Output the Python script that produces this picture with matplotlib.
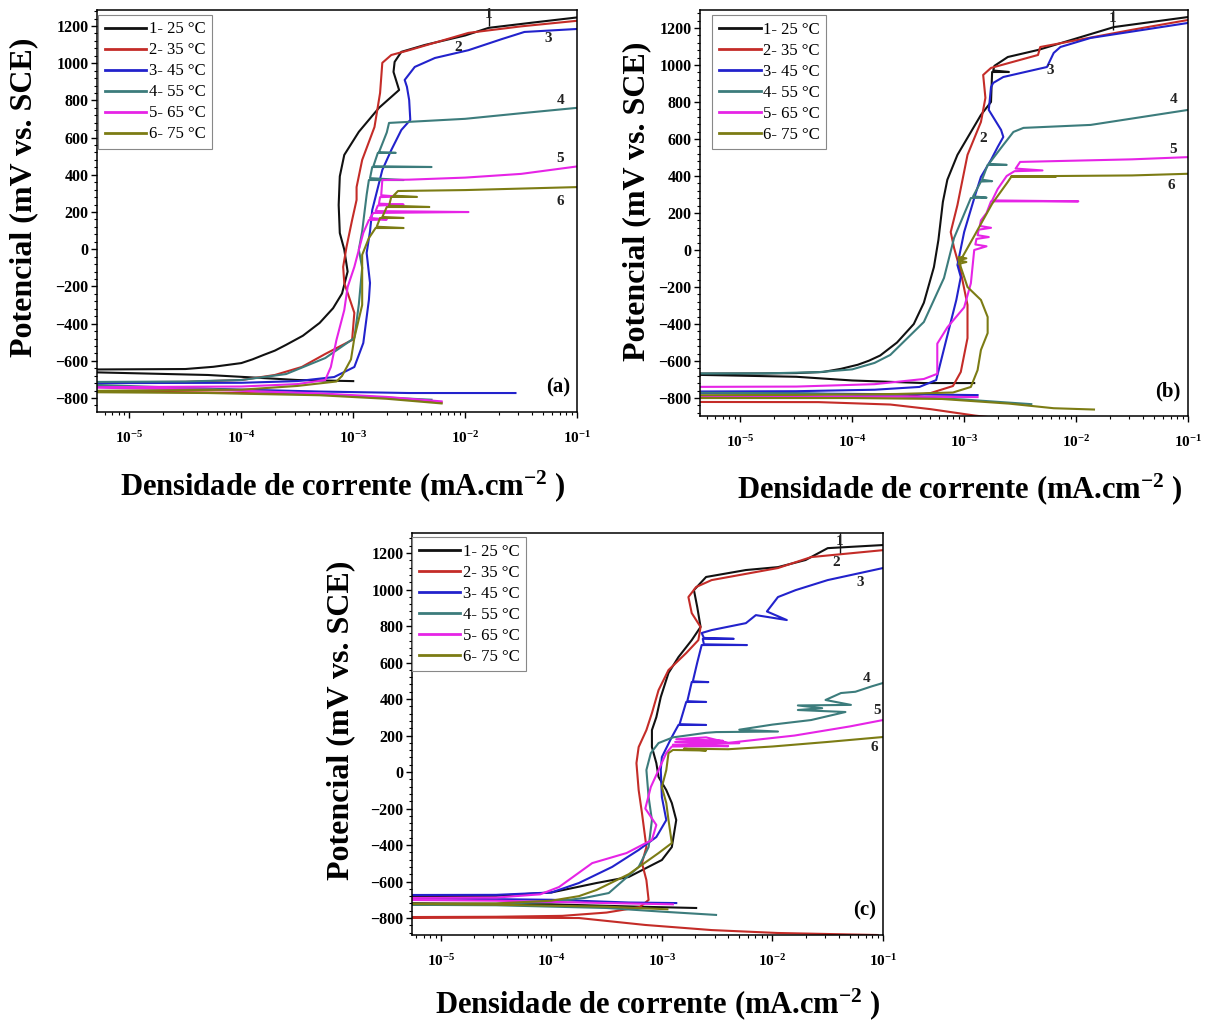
import matplotlib
matplotlib.use('Agg')
import matplotlib.pyplot as plt
from matplotlib.ticker import AutoMinorLocator, LogLocator, NullFormatter, FixedLocator, FixedFormatter
import numpy as np

plt.rcParams['font.family'] = ['Liberation Serif', 'DejaVu Serif']
plt.rcParams['mathtext.fontset'] = 'custom'
plt.rcParams['mathtext.rm'] = 'Liberation Serif:bold'
plt.rcParams['mathtext.bf'] = 'Liberation Serif:bold'
plt.rcParams['mathtext.it'] = 'Liberation Serif:bold:italic'

W, H = 1210, 1021

SERIES_LABELS = ['1- 25 °C', '2- 35 °C', '3- 45 °C', '4- 55 °C', '5- 65 °C', '6- 75 °C']
COLORS = ['#111111', '#c42c28', '#2222cc', '#3c7c7c', '#e624e6', '#7c7c14']
X_TICK_EXP = [-5, -4, -3, -2, -1]
X_TICK_LABELS = [r'$10^{-5}$', r'$10^{-4}$', r'$10^{-3}$', r'$10^{-2}$', r'$10^{-1}$']
Y_TICKS = [-800, -600, -400, -200, 0, 200, 400, 600, 800, 1000, 1200]

# ---------------- Panel (a): log10 current density (mA/cm2) and potential (mV) ----------------
A1_LGI = [-3.0, -3.5, -3.85, -4.3, -5.5, -5.5, -4.5, -4.25, -4.0, -3.9, -3.8, -3.7, -3.6, -3.45, -3.3, -3.18, -3.1, -3.05, -3.08, -3.12, -3.13, -3.12, -3.08, -2.95, -2.77, -2.59, -2.64, -2.63, -2.57, -2.36, -2.0, -1.79, -1.4, -1.0]
A1_E = [-709, -703, -691, -676, -659, -647, -644, -632, -612, -592, -568, -545, -514, -465, -396, -317, -238, -120, -2, 87, 238, 392, 507, 631, 760, 856, 953, 1007, 1061, 1098, 1149, 1190, 1218, 1246]
A2_LGI = [-2.21, -2.7, -3.3, -4.3, -5.5, -5.5, -4.5, -4.0, -3.7, -3.46, -3.25, -3.01, -2.99, -3.08, -3.09, -3.06, -3.01, -2.97, -2.97, -2.92, -2.81, -2.76, -2.74, -2.66, -2.50, -1.97, -1.5, -1.0]
A2_E = [-824, -799, -780, -770, -762, -716, -713, -703, -676, -633, -563, -488, -342, -181, -95, 12, 157, 265, 334, 480, 657, 840, 1002, 1044, 1070, 1163, 1198, 1228]
A3_LGI = [-1.55, -2.5, -3.3, -4.3, -5.5, -5.5, -4.0, -3.5, -3.17, -2.99, -2.91, -2.86, -2.85, -2.88, -2.85, -2.83, -2.74, -2.66, -2.57, -2.49, -2.50, -2.52, -2.54, -2.45, -2.27, -1.97, -1.67, -1.47, -1.0]
A3_E = [-773, -773, -765, -750, -738, -720, -718, -709, -687, -633, -504, -273, -181, -20, 96, 211, 426, 533, 641, 695, 802, 873, 910, 980, 1028, 1070, 1130, 1168, 1184]
A4_LGI = [-2.3, -3.3, -4.3, -5.5, -5.5, -4.5, -4.0, -3.6, -3.25, -2.99, -2.95, -2.92, -2.95, -2.92, -2.90, -2.88, -2.86, -2.55, -2.85, -2.83, -2.30, -2.82, -2.78, -2.62, -2.77, -2.70, -2.68, -2.0, -1.5, -1.0]
A4_E = [-809, -780, -750, -725, -714, -711, -703, -671, -585, -477, -297, -100, -2, 96, 195, 293, 372, 372, 382, 442, 442, 446, 518, 518, 521, 628, 679, 701, 731, 760]
A5_LGI = [-2.21, -2.7, -3.3, -4.3, -5.5, -5.5, -4.0, -3.5, -3.25, -3.2, -3.15, -3.08, -3.05, -2.99, -2.91, -2.86, -2.70, -2.85, -2.82, -1.97, -2.80, -2.78, -2.55, -2.77, -2.76, -2.60, -2.75, -2.74, -2.5, -2.0, -1.5, -1.0]
A5_E = [-818, -794, -775, -755, -742, -742, -738, -725, -703, -633, -488, -327, -203, -95, 88, 157, 160, 168, 195, 200, 205, 235, 240, 245, 280, 283, 290, 372, 374, 385, 405, 445]
A6_LGI = [-2.21, -2.7, -3.3, -4.3, -5.5, -5.5, -4.0, -3.5, -3.15, -3.1, -3.02, -2.99, -2.92, -2.92, -2.86, -2.80, -2.55, -2.79, -2.76, -2.55, -2.74, -2.70, -2.32, -2.68, -2.66, -2.43, -2.64, -2.60, -2.0, -1.5, -1.0]
A6_E = [-829, -804, -785, -773, -768, -762, -755, -735, -711, -681, -592, -477, -300, -30, 60, 114, 114, 121, 168, 168, 173, 227, 227, 234, 281, 281, 288, 313, 318, 326, 334]

# ---------------- Panel (b) ----------------
B1_LGI = [-2.91, -3.36, -4.0, -4.5, -5.6, -5.6, -4.8, -4.5, -4.26, -4.1, -3.95, -3.85, -3.75, -3.6, -3.45, -3.36, -3.27, -3.23, -3.19, -3.15, -3.06, -2.85, -2.76, -2.75, -2.60, -2.74, -2.73, -2.61, -2.34, -1.66, -1.0]
B1_E = [-719, -719, -705, -685, -672, -668, -667, -665, -659, -642, -620, -598, -570, -500, -400, -285, -92, 54, 260, 380, 514, 730, 800, 962, 962, 970, 995, 1043, 1081, 1205, 1259]
B2_LGI = [-2.6, -2.9, -3.3, -3.66, -4.3, -5.6, -5.6, -4.0, -3.5, -3.30, -3.1, -3.03, -2.97, -2.97, -3.03, -3.09, -3.12, -3.06, -2.97, -2.85, -2.81, -2.83, -2.76, -2.34, -2.32, -1.5, -1.0]
B2_E = [-915, -895, -860, -835, -822, -821, -794, -794, -790, -773, -735, -659, -476, -297, -119, 11, 97, 243, 514, 692, 822, 946, 984, 1054, 1097, 1190, 1243]
B3_LGI = [-2.88, -3.5, -4.5, -5.6, -5.6, -4.5, -3.8, -3.4, -3.25, -3.16, -3.07, -3.03, -3.06, -3.0, -2.9, -2.85, -2.76, -2.70, -2.65, -2.67, -2.78, -2.76, -2.74, -2.65, -2.26, -2.20, -2.14, -1.87, -1.0]
B3_E = [-784, -780, -775, -772, -765, -763, -755, -740, -703, -486, -270, -146, -81, 97, 300, 395, 487, 557, 611, 649, 757, 880, 903, 935, 989, 1065, 1097, 1146, 1227]
B4_LGI = [-2.40, -3.0, -3.6, -4.4, -5.6, -5.6, -4.8, -4.3, -4.0, -3.8, -3.66, -3.36, -3.18, -3.09, -2.94, -2.80, -2.92, -2.85, -2.75, -2.84, -2.79, -2.62, -2.78, -2.65, -2.56, -2.47, -1.87, -1.0]
B4_E = [-833, -808, -790, -775, -770, -668, -667, -660, -645, -610, -567, -389, -151, 65, 281, 283, 290, 370, 372, 380, 460, 460, 465, 568, 638, 660, 676, 757]
B5_LGI = [-2.88, -3.5, -4.5, -5.6, -5.6, -4.5, -3.8, -3.36, -3.24, -3.24, -3.15, -3.0, -2.94, -2.91, -2.80, -2.90, -2.89, -2.78, -2.88, -2.87, -2.76, -2.86, -2.85, -2.80, -2.76, -1.98, -2.75, -2.70, -2.62, -2.55, -2.30, -2.54, -2.50, -1.5, -1.0]
B5_E = [-795, -792, -790, -790, -740, -738, -725, -697, -669, -506, -418, -310, -180, 0, 20, 30, 60, 70, 80, 110, 120, 130, 160, 200, 263, 263, 268, 330, 400, 426, 430, 440, 476, 490, 502]
B6_LGI = [-1.84, -2.2, -2.6, -3.2, -4.0, -5.6, -5.6, -4.5, -3.6, -3.1, -2.94, -2.88, -2.85, -2.79, -2.79, -2.85, -2.97, -3.03, -3.05, -2.98, -3.05, -2.98, -3.05, -2.92, -2.75, -2.61, -2.58, -2.18, -2.58, -1.5, -1.0]
B6_E = [-862, -855, -830, -805, -800, -800, -785, -783, -778, -770, -740, -649, -540, -449, -362, -270, -200, -92, -38, -45, -55, -65, -75, 65, 250, 368, 395, 396, 398, 403, 412]

# ---------------- Panel (c) ----------------
C1_LGI = [-2.69, -3.2, -4.0, -5.5, -5.5, -4.5, -4.0, -3.59, -3.30, -3.0, -2.91, -2.87, -2.91, -2.96, -3.03, -3.05, -3.09, -3.09, -3.05, -3.01, -2.94, -2.85, -2.73, -2.65, -2.68, -2.71, -2.60, -2.24, -1.95, -1.70, -1.50, -1.0]
C1_E = [-745, -738, -725, -718, -680, -678, -660, -608, -575, -482, -411, -263, -170, -99, -27, 49, 137, 230, 301, 411, 543, 630, 723, 795, 904, 997, 1069, 1107, 1123, 1162, 1227, 1244]
C2_LGI = [-1.05, -1.95, -2.55, -3.15, -3.75, -4.5, -5.5, -5.5, -4.5, -3.9, -3.5, -3.2, -3.12, -3.14, -3.18, -3.14, -3.16, -3.18, -3.21, -3.23, -3.21, -3.14, -3.09, -3.03, -2.94, -2.78, -2.67, -2.65, -2.73, -2.76, -2.69, -2.55, -1.95, -1.65, -1.0]
C2_E = [-893, -882, -866, -838, -800, -798, -800, -795, -793, -788, -770, -740, -701, -592, -499, -411, -318, -225, -99, 49, 137, 230, 323, 449, 559, 652, 723, 795, 871, 959, 1014, 1052, 1118, 1178, 1216]
C3_LGI = [-2.87, -3.3, -4.0, -5.5, -5.5, -4.5, -4.0, -3.75, -3.45, -3.21, -3.05, -2.96, -3.0, -3.01, -3.0, -2.91, -2.85, -2.60, -2.84, -2.78, -2.60, -2.77, -2.73, -2.58, -2.72, -2.68, -2.64, -2.23, -2.62, -2.63, -2.35, -2.62, -2.64, -2.55, -2.24, -2.15, -1.87, -2.05, -1.95, -1.79, -1.50, -1.0]
C3_E = [-718, -715, -700, -690, -674, -673, -660, -608, -520, -427, -356, -263, -137, 11, 82, 192, 258, 258, 262, 384, 384, 388, 493, 493, 497, 600, 696, 696, 700, 730, 730, 735, 762, 778, 816, 860, 833, 880, 959, 997, 1052, 1118]
C4_LGI = [-2.51, -3.0, -3.5, -4.5, -5.5, -5.5, -4.5, -4.0, -3.7, -3.48, -3.21, -3.12, -3.09, -3.12, -3.14, -3.10, -3.03, -2.9, -2.6, -2.51, -1.95, -2.3, -2.0, -1.65, -1.34, -1.77, -1.55, -1.77, -1.29, -1.52, -1.38, -1.25, -1.1, -1.0]
C4_E = [-783, -765, -745, -730, -727, -725, -722, -712, -690, -663, -520, -411, -263, -137, 11, 104, 159, 190, 215, 219, 222, 232, 260, 285, 329, 340, 350, 365, 368, 395, 433, 440, 470, 488]
C5_LGI = [-2.9, -3.5, -4.5, -5.5, -5.5, -4.5, -4.1, -3.93, -3.63, -3.32, -3.09, -3.05, -3.15, -3.1, -3.03, -2.96, -2.91, -2.40, -2.90, -2.30, -2.88, -2.45, -2.87, -2.6, -2.4, -1.8, -1.3, -1.0]
C5_E = [-725, -718, -705, -700, -690, -688, -670, -630, -499, -444, -372, -290, -200, -82, 11, 104, 140, 142, 150, 158, 165, 172, 180, 190, 160, 200, 250, 285]
C6_LGI = [-2.95, -3.5, -4.5, -5.5, -5.5, -4.5, -4.0, -3.75, -3.59, -3.3, -3.03, -2.91, -2.94, -2.96, -3.0, -2.96, -2.94, -2.9, -2.6, -2.8, -2.4, -2.0, -1.5, -1.0]
C6_E = [-752, -738, -727, -722, -722, -720, -705, -680, -646, -560, -444, -389, -263, -170, -82, 11, 104, 121, 118, 128, 125, 140, 165, 192]

# curve-number labels: (text, log10 i, E); the first one gets a leader line down to its curve
NUM_A = [('1', -1.79, 1262), ('2', -2.06, 1087), ('3', -1.26, 1135), ('4', -1.15, 802), ('5', -1.15, 488), ('6', -1.15, 254)]
NUM_B = [('1', -1.67, 1250), ('2', -2.83, 605), ('3', -2.23, 968), ('4', -1.13, 811), ('5', -1.13, 541), ('6', -1.15, 346)]
NUM_C = [('1', -1.39, 1262), ('2', -1.42, 1151), ('3', -1.21, 1036), ('4', -1.15, 515), ('5', -1.05, 340), ('6', -1.08, 132)]

PANELS = [
    dict(rect=(97, 10, 577, 412), xmin=-5.29, ylim=(-875, 1286), tag='(a)',
         series=[(A1_LGI, A1_E), (A2_LGI, A2_E), (A3_LGI, A3_E), (A4_LGI, A4_E), (A5_LGI, A5_E), (A6_LGI, A6_E)],
         nums=NUM_A, leg=(0.002, 0.988), ylab=(24, 197), xlab=(343, 486)),
    dict(rect=(700, 10, 1188, 416), xmin=-5.36, ylim=(-897, 1297), tag='(b)',
         series=[(B1_LGI, B1_E), (B2_LGI, B2_E), (B3_LGI, B3_E), (B4_LGI, B4_E), (B5_LGI, B5_E), (B6_LGI, B6_E)],
         nums=NUM_B, leg=(0.025, 0.988), ylab=(637, 201), xlab=(960, 489)),
    dict(rect=(412, 533, 883, 935), xmin=-5.26, ylim=(-893, 1310), tag='(c)',
         series=[(C1_LGI, C1_E), (C2_LGI, C2_E), (C3_LGI, C3_E), (C4_LGI, C4_E), (C5_LGI, C5_E), (C6_LGI, C6_E)],
         nums=NUM_C, leg=(0.0, 0.99), ylab=(341, 720), xlab=(658, 1004)),
]

fig = plt.figure(figsize=(W / 100, H / 100), dpi=100)

for p in PANELS:
    l, t, r, b = p['rect']
    ax = fig.add_axes([l / W, 1 - b / H, (r - l) / W, (b - t) / H])
    handles = []
    for (lg, e), c, lab in zip(p['series'], COLORS, SERIES_LABELS):
        h, = ax.plot(10 ** np.asarray(lg, float), e, color=c, lw=1.5, label=lab, solid_joinstyle='round')
        handles.append(h)
    ax.set_xscale('log')
    ax.set_xlim(10 ** p['xmin'], 10 ** -1)
    ax.set_ylim(*p['ylim'])
    ax.xaxis.set_major_locator(FixedLocator([10.0 ** k for k in X_TICK_EXP]))
    ax.xaxis.set_major_formatter(FixedFormatter(X_TICK_LABELS))
    ax.xaxis.set_minor_locator(LogLocator(base=10, subs=np.arange(2, 10), numticks=20))
    ax.xaxis.set_minor_formatter(NullFormatter())
    ax.yaxis.set_major_locator(FixedLocator(Y_TICKS))
    ax.yaxis.set_minor_locator(AutoMinorLocator(5))
    ax.tick_params(axis='both', which='major', direction='out', length=4, width=1.0)
    ax.tick_params(axis='both', which='minor', direction='out', length=2.2, width=0.8)
    ax.tick_params(axis='x', which='major', pad=9, labelsize=11)
    ax.tick_params(axis='y', which='major', pad=2, labelsize=11.5)
    for lbl in ax.get_yticklabels():
        lbl.set_fontweight('bold')
    for s in ax.spines.values():
        s.set_linewidth(1.1)
    leg = ax.legend(handles=handles, loc='upper left', bbox_to_anchor=p['leg'], borderaxespad=0,
                    fontsize=12, handlelength=2.5, handletextpad=0.15, labelspacing=0.3,
                    borderpad=0.4, fancybox=False, framealpha=1, edgecolor='#888888')
    leg.get_frame().set_linewidth(0.8)
    for line in leg.get_lines():
        line.set_linewidth(2.0)
    for txt, lx, ly in p['nums']:
        ax.text(10 ** lx, ly, txt, fontsize=11, fontweight='bold', ha='center', va='center', color='#222222')
    ax.vlines(10 ** p['nums'][0][1], p['nums'][0][2] - 60, p['ylim'][1], color='#111111', lw=1.0)
    ax.text(0.985, 0.035, p['tag'], transform=ax.transAxes, ha='right', va='bottom',
            fontsize=15, fontweight='bold')
    fig.text(p['ylab'][0] / W, 1 - p['ylab'][1] / H, 'Potencial (mV vs. SCE)', rotation=90,
             ha='center', va='center', fontsize=23, fontweight='bold')
    fig.text(p['xlab'][0] / W, 1 - p['xlab'][1] / H, r'Densidade de corrente (mA.cm$^{-2}$ )',
             ha='center', va='center', fontsize=22, fontweight='bold')

fig.savefig('out.png', dpi=100, facecolor='white')
